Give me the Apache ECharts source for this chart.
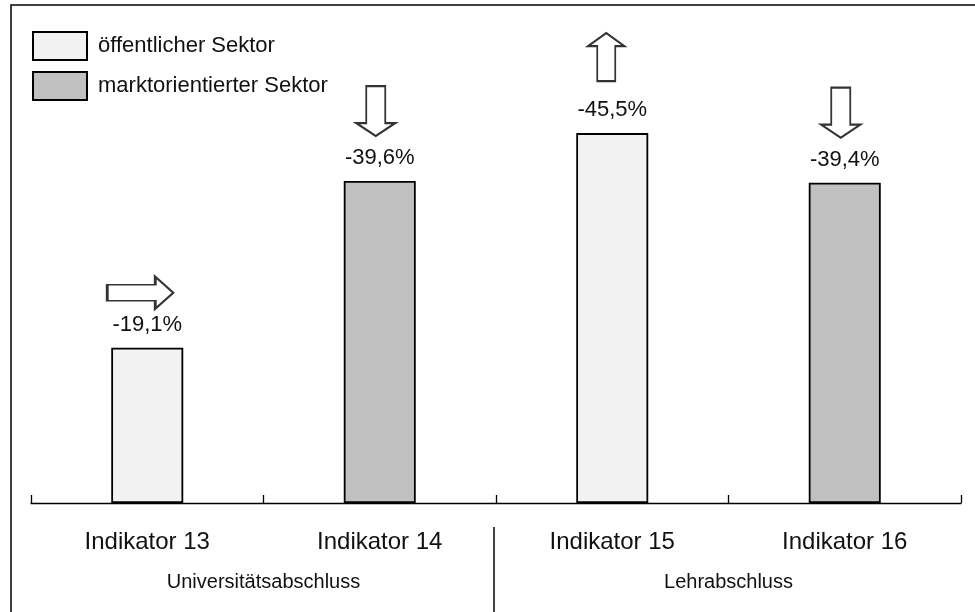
<!DOCTYPE html>
<html>
<head>
<meta charset="utf-8">
<script src="https://cdn.jsdelivr.net/npm/echarts@6/dist/echarts.min.js"></script>
<style>
html,body{margin:0;padding:0;background:#fff;}
#chart{width:975px;height:612px;}
</style>
</head>
<body>
<div id="chart"></div>
<script>
// ---- data ----
const categories = ['Indikator 13', 'Indikator 14', 'Indikator 15', 'Indikator 16'];
const groups = ['Universitätsabschluss', 'Lehrabschluss'];
const changes = [-19.1, -39.6, -45.5, -39.4];
const sectorOf = ['öffentlicher Sektor', 'marktorientierter Sektor', 'öffentlicher Sektor', 'marktorientierter Sektor'];
const sectorNames = ['öffentlicher Sektor', 'marktorientierter Sektor'];
const trends = ['right', 'down', 'up', 'down'];

// ---- styles ----
const FONT = 'Liberation Sans';
const sectorColors = {'öffentlicher Sektor': '#f2f2f2', 'marktorientierter Sektor': '#c0c0c0'};
const arrowStyle = {
  up:    {path: 'path://M0,13 L18,0 L36,13 L27,13 L27,48 L9,48 L9,13 Z', size: [36, 48], offset: [-6, -76]},
  down:  {path: 'path://M10,0 L29,0 L29,37 L39,37 L19.5,50 L0,37 L10,37 Z', size: [39, 50], offset: [-4, -70]},
  right: {path: 'path://M0,8 L48,8 L48,0 L66,16 L48,32 L48,24 L0,24 Z', size: [66, 32], offset: [-7, -55]}
};

const chart = echarts.init(document.getElementById('chart'));

const barSeries = sectorNames.map(name => ({
  name: name,
  type: 'bar',
  xAxisIndex: 0,
  barWidth: 72,
  barGap: '-100%',
  itemStyle: {color: sectorColors[name], borderColor: '#000', borderWidth: 1.8},
  label: {
    show: true, position: 'top', distance: 12,
    fontFamily: FONT, fontSize: 22, color: '#111',
    formatter: p => p.value.toFixed(1).replace('.', ',') + '%'
  },
  data: changes.map((v, i) => sectorOf[i] === name ? v : '-')
}));

const arrowSeries = {
  name: 'Trend',
  type: 'scatter',
  xAxisIndex: 0,
  silent: true,
  z: 5,
  itemStyle: {color: '#fff', borderColor: '#000', borderWidth: 2},
  data: changes.map((v, i) => {
    const s = arrowStyle[trends[i]];
    return {value: [i, v], symbol: s.path, symbolSize: s.size, symbolOffset: s.offset};
  })
};

chart.setOption({
  animation: false,
  backgroundColor: '#fff',
  grid: {left: 31, right: 14, top: 96.5, bottom: 109, containLabel: false},
  legend: {
    orient: 'vertical', left: 27, top: 26,
    itemWidth: 54, itemHeight: 28, itemGap: 10,
    icon: 'rect',
    data: sectorNames,
    textStyle: {fontFamily: FONT, fontSize: 22, color: '#111', padding: [0, 0, 0, 6]},
    selectedMode: false
  },
  xAxis: [
    {
      type: 'category', data: categories, position: 'bottom',
      axisLine: {show: true, lineStyle: {color: '#000', width: 1.3}},
      axisTick: {show: true, inside: true, length: 8, lineStyle: {color: '#000', width: 1.3}},
      axisLabel: {fontFamily: FONT, fontSize: 24, color: '#111', margin: 27}
    },
    {
      type: 'category', data: groups, position: 'bottom', gridIndex: 0,
      axisLine: {show: false}, axisTick: {show: false}, splitLine: {show: false},
      axisLabel: {fontFamily: FONT, fontSize: 20, color: '#111', margin: 69}
    }
  ],
  yAxis: {type: 'value', min: -50, max: 0, inverse: true, show: false, splitLine: {show: false}},
  series: [...barSeries, arrowSeries],
  graphic: [
    {id: 'frame', type: 'rect', shape: {x: 11, y: 5, width: 1000, height: 1000},
     style: {fill: 'none', stroke: '#000', lineWidth: 1.5}, silent: true}
  ]
});

// separator between the two groups, placed at the boundary between categories 2 and 3
const xa = chart.convertToPixel({xAxisIndex: 0}, categories[1]);
const xb = chart.convertToPixel({xAxisIndex: 0}, categories[2]);
const xMid = Math.round((xa + xb) / 2) - 2;
const yAxisBase = chart.convertToPixel({yAxisIndex: 0}, 0);
chart.setOption({
  graphic: [
    {id: 'frame'},
    {id: 'sep', type: 'line', shape: {x1: xMid, y1: yAxisBase + 24, x2: xMid, y2: 612},
     style: {stroke: '#000', lineWidth: 1.5}, silent: true}
  ]
});
</script>
</body>
</html>
